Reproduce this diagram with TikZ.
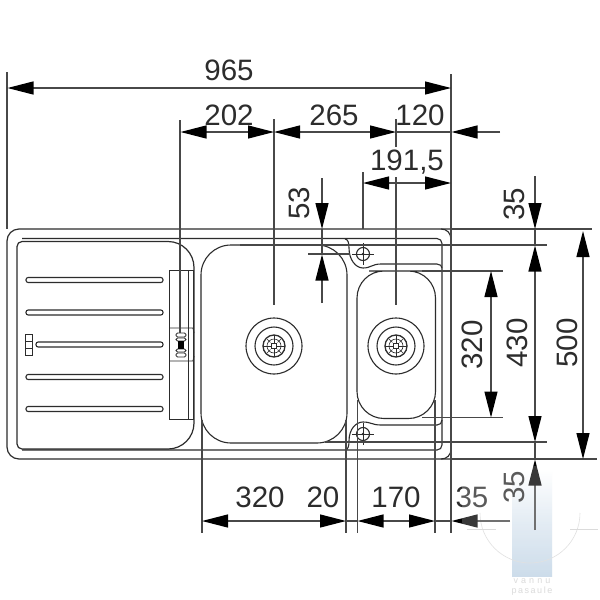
\documentclass[tikz,border=0pt]{standalone}
\usepackage{fontspec}
\setmainfont{Liberation Sans}
\usetikzlibrary{arrows.meta}
\definecolor{ink}{HTML}{2C2C2C}
\definecolor{dimgrey}{HTML}{484848}
\definecolor{wm}{HTML}{BFD3E5}
\tikzset{
  x=1pt,y=-1pt,
  sink/.style={draw=ink,line width=1.1pt},
  thin sink/.style={draw=ink,line width=.8pt},
  ext/.style={draw=dimgrey,line width=1.2pt},
  dimline/.style={draw=dimgrey,line width=1.2pt,{Triangle[length=26pt,width=13pt,color=black]}-{Triangle[length=26pt,width=13pt,color=black]}},
  dimend/.style={draw=dimgrey,line width=1.2pt,-{Triangle[length=26pt,width=13pt,color=black]}},
  num/.style={font=\fontsize{29.5}{29.5}\selectfont,text=ink,inner sep=0pt},
  vnum/.style={num,rotate=90},
  rib/.style={draw=ink,line width=1.1pt,rounded corners=2.2pt},
  wmtext/.style={font=\fontsize{9}{9}\selectfont,text=black!18,inner sep=0pt},
}
\newcommand{\drainhole}[2]{%
  \begin{scope}[shift={(#1,#2)}]
    \draw[sink] (0,0) circle (28);
    \draw[sink] (0,0) circle (19);
    \draw[sink,line width=1.3pt] (0,0) circle (11);
    \draw[thin sink,line width=.6pt] (0,0) circle (7);
    \foreach \a in {0,90,180,270}{\draw[thin sink,line width=1pt] (\a:3) -- (\a:11);}
    \foreach \a in {45,135,225,315}{\draw[thin sink,line width=.5pt] (\a:5) -- (\a:10);}
    \draw[thin sink,fill=white,line width=.7pt] (-2.5,-2.5) rectangle (2.5,2.5);
  \end{scope}}
\newcommand{\taphole}[2]{%
  \begin{scope}[shift={(#1,#2)}]
    \draw[sink] (0,0) circle (6.5);
    \draw[thin sink] (-11,0) -- (11,0) (0,-11) -- (0,11);
    \fill[ink] (0,0) circle (1.3);
  \end{scope}}
\begin{document}
\begin{tikzpicture}
\useasboundingbox (0,0) rectangle (600,600);
\fill[white] (0,0) rectangle (600,600);

% watermark
\shade[top color=white,bottom color=wm,middle color=wm!55] (512,470) rectangle (552,576);
\draw[black!15,line width=.6pt] (480,513) arc[start angle=180,end angle=0,radius=50];
\draw[black!18,line width=.7pt] (467,529) -- (496,529) (570,529) -- (598,529);
\node[wmtext] (wma) at (532,581.5) {v\,\,a\,\,n\,\,n\,\,u};
\node[wmtext] (wmb) at (532,591.5) {p\,a\,s\,a\,u\,l\,e};

% sink outer
\draw[sink,line width=1.2pt,rounded corners=12pt] (451,229) -- (7,229) -- (7,459) -- (451,459);
\draw[sink] (441,229) .. controls (447,229) and (451,233) .. (451,240);
\draw[sink] (451,449) .. controls (451,455) and (447,459) .. (441,459);
\draw[sink,rounded corners=5pt] (22,238.5) -- (442,238.5) -- (442,450) -- (22,450);

% drainer
\draw[sink,line width=1.2pt,rounded corners=26pt] (100,241.5) -- (194,241.5) -- (194,449) -- (100,449)
  [rounded corners=5pt] -- (17,449) -- (17,241.5) -- cycle;
\draw[rib] (26,277.5) rectangle (163,282.5);
\draw[rib] (26,310) rectangle (163,315);
\draw[rib] (36,342) rectangle (163,347);
\draw[rib] (26,374.5) rectangle (163,379.5);
\draw[rib] (26,406.5) rectangle (163,411.5);
\draw[thin sink] (25,334) rectangle (32,355) (25,341) -- (32,341) (25,348) -- (32,348);
\draw[thin sink] (169,270) rectangle (193,419);
\draw[thin sink] (188,270) -- (188,419);
\draw[thin sink] (169,328) -- (193,328) -- (194,333) (169,361) -- (193,361) -- (194,356);
\begin{scope}[shift={(181,345)}]
  \draw[thin sink,fill=white,rounded corners=1.5pt] (-5,-12) rectangle (5,-8);
  \draw[thin sink,fill=white,rounded corners=1.5pt] (-5,8) rectangle (5,12);
  \draw[thin sink,fill=white,rounded corners=1.5pt] (-5,-7) rectangle (5,-4);
  \draw[thin sink,fill=white,rounded corners=1.5pt] (-5,4) rectangle (5,7);
  \fill[black] (-3,-4) rectangle (3,4);
\end{scope}

% bowls
\draw[sink,rounded corners=30pt] (274,245) -- (347,245) -- (347,443) -- (201,443) -- (201,245) -- cycle;
\draw[sink,rounded corners=27pt] (396,271) -- (435.5,271) -- (435.5,418.5) -- (357,418.5) -- (357,271) -- cycle;
% contour round tap holes
\draw[sink] (345,239) .. controls (348,239) and (349,243) .. (349,248)
  .. controls (349,260) and (356,268) .. (363,268)
  .. controls (371,268) and (372,264) .. (381,264) -- (437,264) .. controls (440,264) and (442,266) .. (442,268);
\draw[sink] (345,450) .. controls (348,450) and (349,446) .. (349,441)
  .. controls (349,429) and (356,422) .. (363,422)
  .. controls (371,422) and (372,425) .. (381,425) -- (437,425) .. controls (440,425) and (442,423) .. (442,420);
\drainhole{274}{346}
\drainhole{396}{346}
\taphole{363}{254}
\taphole{363}{434}

% extension lines
\draw[ext] (7,72) -- (7,229);
\draw[ext] (451,74) -- (451,533);
\draw[ext,line width=1.1pt] (180,120) -- (180,333);
\draw[ext] (274,119) -- (274,305);
\draw[ext] (396,119) -- (396,147) (396,177) -- (396,305);
\draw[ext] (363,172) -- (363,229);
\draw[ext] (202,420) -- (202,533);
\draw[ext] (346,420) -- (346,533);
\draw[ext] (357.5,400) -- (357.5,533);
\draw[ext] (435,400) -- (435,533);
\draw[ext] (451,229) -- (592,229);
\draw[ext] (240,245) -- (547,245);
\draw[ext] (325,442) -- (547,442);
\draw[ext] (451,459) -- (597,459);
\draw[ext] (422,271) -- (503,271);
\draw[ext] (422,417.5) -- (503,417.5);
\draw[ext] (308,254) -- (350,254);

% dimension lines, horizontal
\coordinate (h0) at (7.5,88);   \coordinate (h1) at (451,88);
\draw[dimline] (h0) -- (h1);
\coordinate (a0) at (180.5,132); \coordinate (a1) at (274,132); \coordinate (a2) at (396,132);
\coordinate (a3) at (451.5,132); \coordinate (a4) at (500,132);
\draw[dimline] (a0) -- (a1);
\draw[dimline] (a1) -- (a2);
\draw[ext] (a2) -- (a3);
\draw[dimend] (a4) -- (a3);
\coordinate (b0) at (363,183); \coordinate (b1) at (451,183);
\draw[dimline] (b0) -- (b1);
\coordinate (c0) at (202,521); \coordinate (c1) at (346,521); \coordinate (c2) at (357.5,521);
\coordinate (c3) at (435,521); \coordinate (c4) at (451.5,521); \coordinate (c5) at (510,521);
\draw[dimline] (c0) -- (c1);
\draw[ext] (c1) -- (c2);
\draw[dimline] (c2) -- (c3);
\draw[ext] (c3) -- (c4);
\draw[dimend] (c5) -- (c4);

% dimension lines, vertical
\coordinate (v0) at (322,178); \coordinate (v1) at (322,229); \coordinate (v2) at (322,254.5); \coordinate (v3) at (322,303);
\draw[dimend] (v0) -- (v1);
\draw[dimend] (v3) -- (v2);
\draw[ext] (v1) -- (v2);
\coordinate (w0) at (535,176); \coordinate (w1) at (535,229); \coordinate (w2) at (535,245.5);
\coordinate (w3) at (535,442); \coordinate (w4) at (535,459.5); \coordinate (w5) at (535,530);
\draw[dimend] (w0) -- (w1);
\draw[ext] (w1) -- (w2);
\draw[dimline] (w2) -- (w3);
\draw[ext] (w3) -- (w4);
\draw[dimend] (w5) -- (w4);
\coordinate (p0) at (491,271); \coordinate (p1) at (491,417.5);
\draw[dimline] (p0) -- (p1);
\coordinate (q0) at (583,231); \coordinate (q1) at (583,459);
\draw[dimline] (q0) -- (q1);

% labels
\node[num] (t965) at (229,70) {965};
\node[num] (t202) at (229,115) {202};
\node[num] (t265) at (334,115) {265};
\node[num] (t120) at (420,115) {120};
\node[num] (t1915) at (407,162) {191,5};
\node[num] (t320a) at (260,497) {320};
\node[num] (t20) at (323,497) {20};
\node[num] (t170) at (396,497) {170};
\node[num] (t35a) at (472,497) {35};
\node[vnum] (t53) at (299,203) {53};
\node[vnum] (t35b) at (514,204) {35};
\node[vnum] (t320b) at (472,345) {320};
\node[vnum] (t430) at (517,343) {430};
\node[vnum] (t500) at (567,343) {500};
\node[vnum] (t35c) at (514,487) {35};

% fade over the lower right
\fill[white,opacity=.22] (462,466) rectangle (600,600);
\end{tikzpicture}
\end{document}
